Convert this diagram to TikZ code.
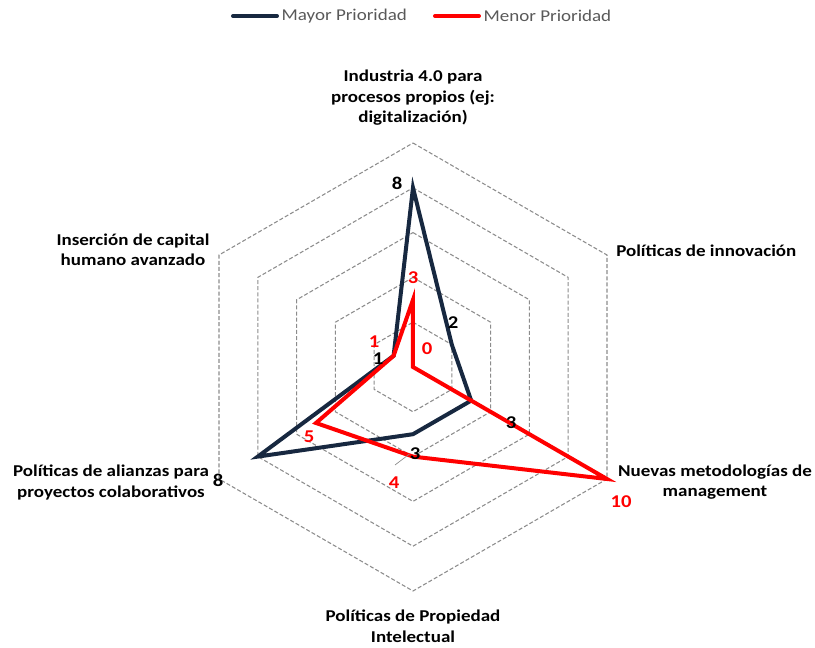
\documentclass[tikz,border=0pt]{standalone}
\usepackage{fontspec}
\setmainfont{Carlito}
\newfontfamily\chartfont[FakeStretch=1.15]{Carlito}
\usepackage{tikz}

\definecolor{navy}{RGB}{23,40,64}
\definecolor{gridgray}{RGB}{140,140,140}
\definecolor{legendgray}{RGB}{89,89,89}

\begin{document}
\begin{tikzpicture}[x=0.75pt, y=0.75pt,
                    grid/.style={draw=gridgray, line width=0.8pt, dash pattern=on 3pt off 1.6pt},
                    mayor/.style={draw=navy, line width=3pt},
                    menor/.style={draw=red, line width=3pt},
                    axislabel/.style={font=\chartfont\bfseries\fontsize{12.4}{15.4}\selectfont, align=center, inner sep=0pt},
                    val/.style={font=\chartfont\bfseries\fontsize{13.5}{14}\selectfont, inner sep=0pt},
                    legendtext/.style={right, inner sep=2pt, text=legendgray, font=\chartfont\fontsize{12.4}{14}\selectfont}]
                    \useasboundingbox (-413,-281) rectangle (402,367);

                    % Rings
                    \foreach \r in {1,...,5}
                    {
                        \draw[grid] (90:\r*44.8) -- (30:\r*44.8) -- (-30:\r*44.8) -- (-90:\r*44.8) -- (-150:\r*44.8) -- (150:\r*44.8) -- cycle;
                    }

                    % Axis ends
                    \foreach \i/\a in {1/90, 2/30, 3/-30, 4/-90, 5/-150, 6/150}
                    {
                        \coordinate (Axis-\i) at (\a:224);
                    }

                    % Axis labels
                    \node[axislabel, anchor=south] (Lab-1) at ([yshift=13pt]Axis-1) {Industria 4.0 para\\procesos propios (ej:\\digitalización)};
                    \node[axislabel, anchor=west] (Lab-2) at ([xshift=6.75pt, yshift=3pt]Axis-2) {Políticas de innovación};
                    \node[axislabel] (Lab-3) at ([xshift=81pt, yshift=-2.5pt]Axis-3) {Nuevas metodologías de\\management};
                    \node[axislabel, anchor=north] (Lab-4) at ([yshift=-14pt]Axis-4) {Políticas de Propiedad\\Intelectual};
                    \node[axislabel] (Lab-5) at ([xshift=-81pt, yshift=-2.5pt]Axis-5) {Políticas de alianzas para\\proyectos colaborativos};
                    \node[axislabel] (Lab-6) at ([xshift=-64.5pt, yshift=4pt]Axis-6) {Inserción de capital\\humano avanzado};

                    % Data points
                    \foreach \i/\a/\m/\n in {1/90/8/3, 2/30/2/0, 3/-30/3/10, 4/-90/3/4, 5/-150/8/5, 6/150/1/1}
                    {
                        \coordinate (Mayor-\i) at (\a:\m*22.4);
                        \coordinate (Menor-\i) at (\a:\n*22.4);
                    }

                    % Series
                    \draw[mayor] (Mayor-1) -- (Mayor-2) -- (Mayor-3) -- (Mayor-4) -- (Mayor-5) -- (Mayor-6) -- cycle;
                    \draw[menor] (Menor-1) -- (Menor-2) -- (Menor-3) -- (Menor-4) -- (Menor-5) -- (Menor-6) -- cycle;

                    % Value labels
                    \node[val] (MayorVal-1) at (-16,184) {8};
                    \node[val] (MayorVal-2) at (40,44) {2};
                    \node[val] (MayorVal-3) at (98,-56) {3};
                    \node[val] (MayorVal-4) at (2,-87) {3};
                    \node[val] (MayorVal-5) at (-195,-113) {8};
                    \node[val] (MayorVal-6) at (-35,8) {1};
                    \node[val, text=red] (MenorVal-1) at (0,89) {3};
                    \node[val, text=red] (MenorVal-2) at (14,18) {0};
                    \node[val, text=red] (MenorVal-3) at (208,-135) {10};
                    \node[val, text=red] (MenorVal-4) at (-19,-116) {4};
                    \node[val, text=red] (MenorVal-5) at (-104,-70) {5};
                    \node[val, text=red] (MenorVal-6) at (-39,25) {1};

                    % Leader line
                    \coordinate (Lead) at (-18,-98);
                    \draw[gridgray, line width=0.5pt] (Lead) -- (MayorVal-4.west);

                    % Legend
                    \coordinate (LegA) at (-180,351);
                    \coordinate (LegB) at (22,351);
                    \draw[navy, line width=3pt, line cap=round] (LegA) -- ++(44,0) node[legendtext] (LegMayor) {Mayor Prioridad};
                    \draw[red, line width=3pt, line cap=round] (LegB) -- ++(44,0) node[legendtext] (LegMenor) {Menor Prioridad};
                \end{tikzpicture}
\end{document}
